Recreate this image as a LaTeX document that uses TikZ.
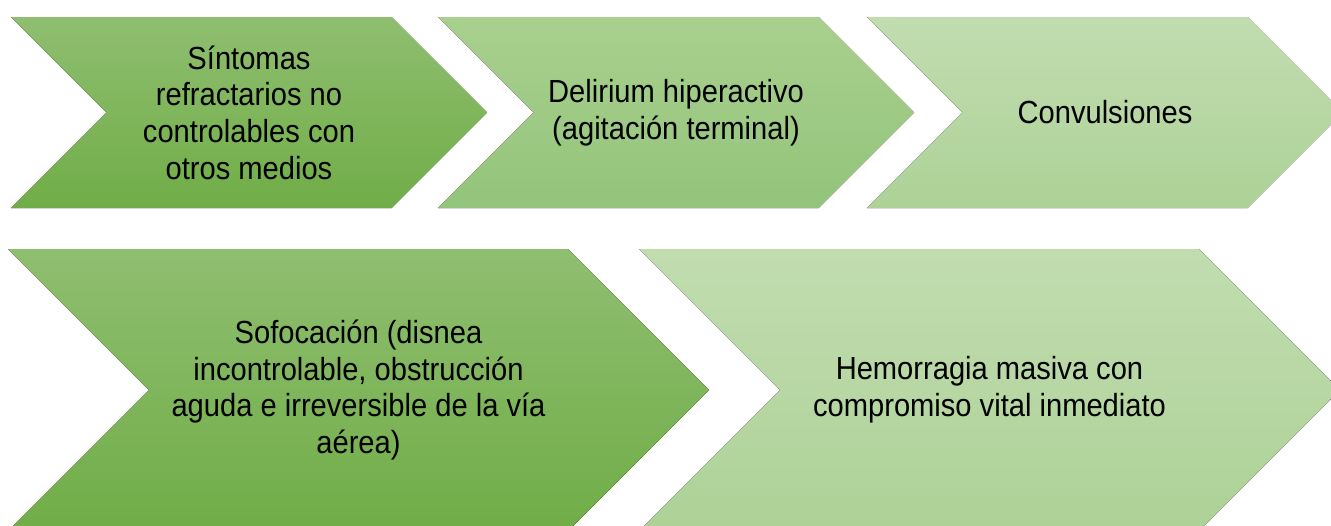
\documentclass[tikz,border=0pt]{standalone}
\usepackage{fontspec}
\setmainfont[FakeStretch=0.91]{Liberation Sans}
\usetikzlibrary{positioning}
\definecolor{darkTop}{HTML}{8FBE70}
\definecolor{darkBot}{HTML}{70AD47}
\definecolor{midTop}{HTML}{A9D08E}
\definecolor{midBot}{HTML}{93C47B}
\definecolor{lightTop}{HTML}{C1DDB0}
\definecolor{lightBot}{HTML}{ADD197}
\tikzstyle{chevDark}=[top color=darkTop,bottom color=darkBot]
\tikzstyle{chevMid}=[top color=midTop,bottom color=midBot]
\tikzstyle{chevLight}=[top color=lightTop,bottom color=lightBot]
\tikzstyle{chevText}=[align=center,inner sep=0pt,font=\fontsize{16}{18.3}\selectfont]
% name, left x, middle y, width, half height, fill style, text
\newcommand{\newChevron}[7]{\fill[#6] (#2,#3-#5) -- ++(#4-#5,0) -- ++(#5,#5) -- ++(-#5,#5) -- ++(-#4+#5,0) -- ++(#5,-#5) -- cycle;
  \node[chevText](#1) at (#2+#4/2,#3) {#7};}

\begin{document}
\begin{tikzpicture}[x=0.5pt,y=-0.5pt]
      \useasboundingbox (0,0) rectangle (1331,525);
      \clip (0,0) rectangle (1331,525);
      % first row
      \newChevron{sintomas}{11}{112.5}{476}{95.5}{chevDark}{Síntomas\\refractarios no\\controlables con\\otros medios}
      \newChevron{delirium}{438}{112.5}{476}{95.5}{chevMid}{Delirium hiperactivo\\(agitación terminal)}
      \newChevron{convulsiones}{867}{112.5}{476}{95.5}{chevLight}{Convulsiones}
      % second row
      \newChevron{sofocacion}{8}{390}{701}{141}{chevDark}{Sofocación (disnea\\incontrolable, obstrucción\\aguda e irreversible de la vía\\aérea)}
      \newChevron{hemorragia}{639}{390}{701}{141}{chevLight}{Hemorragia masiva con\\compromiso vital inmediato}
    \end{tikzpicture}
\end{document}
